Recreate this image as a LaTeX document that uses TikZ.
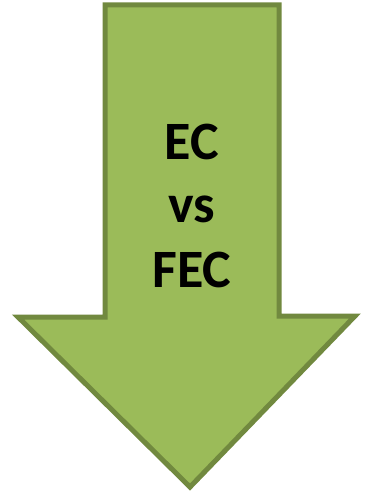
\documentclass[tikz,border=0pt]{standalone}
\usepackage{fontspec}
\setmainfont{Carlito}
\definecolor{arrowfill}{HTML}{9BBB59}
\definecolor{arrowline}{HTML}{71893F}
\tikzset{
  bigarrow/.style={fill=arrowfill, draw=arrowline, line width=5pt, line join=miter, miter limit=10},
  label/.style={font=\bfseries\fontsize{54}{63}\selectfont, text=black, anchor=base, inner sep=0pt}
}
\begin{document}
\begin{tikzpicture}[x=1pt,y=-1pt]
\useasboundingbox (0,0) rectangle (366,494);
\draw[bigarrow] (105,5) -- (279,5) -- (279,316) -- (355,316) -- (190,487) -- (18,317) -- (105,317) -- cycle;
\node[label] (t1) at (192,160) {EC};
\node[label] (t2) at (192,222) {vs};
\node[label] (t3) at (192,287) {FEC};
\end{tikzpicture}
\end{document}
